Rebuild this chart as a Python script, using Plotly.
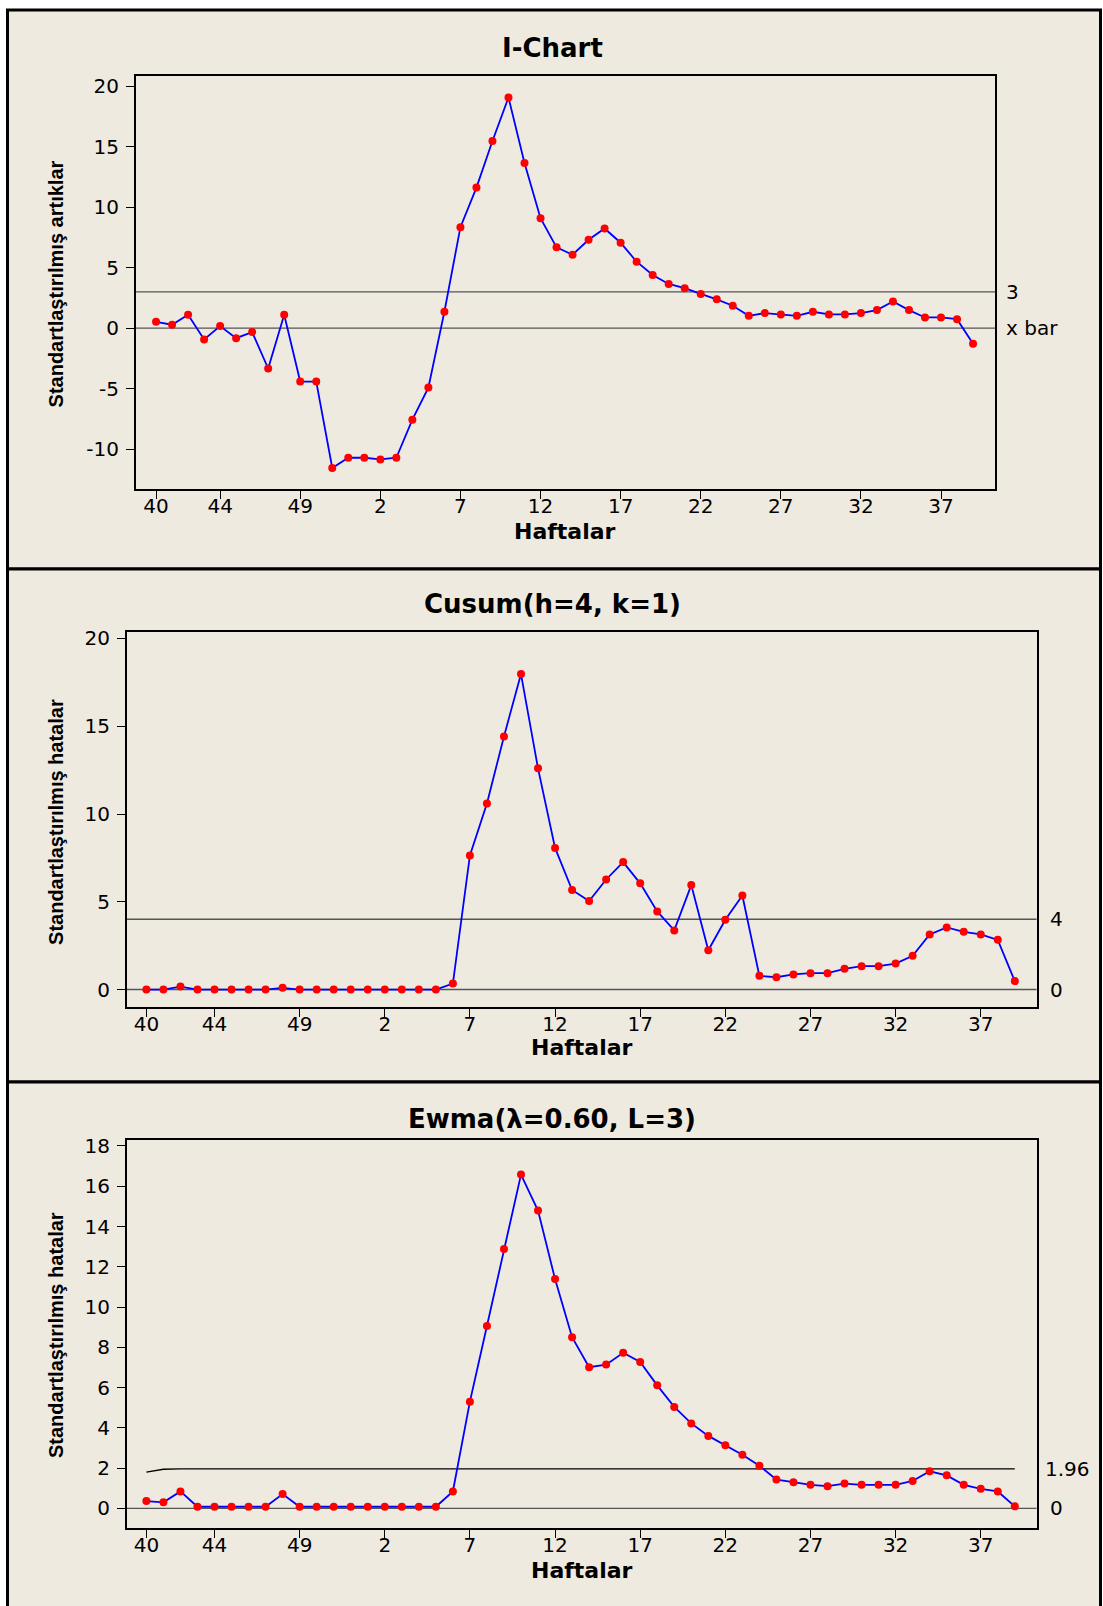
import plotly.graph_objects as go

# Week labels (week 40 of one year through week 39 of the next)
WEEKS = ["40", "41", "42", "43", "44", "45", "46", "47", "48", "49", "50", "51", "52",
         "1", "2", "3", "4", "5", "6", "7", "8", "9", "10", "11", "12", "13", "14",
         "15", "16", "17", "18", "19", "20", "21", "22", "23", "24", "25", "26", "27",
         "28", "29", "30", "31", "32", "33", "34", "35", "36", "37", "38", "39"]
TICK_WEEKS = ["40", "44", "49", "2", "7", "12", "17", "22", "27", "32", "37"]

# I-Chart: standardized residuals
I_VALUES = [0.52, 0.28, 1.10, -0.94, 0.17, -0.83, -0.33, -3.34, 1.10, -4.42,
            -4.42, -11.57, -10.72, -10.72, -10.86, -10.72, -7.57, -4.92, 1.35, 8.35,
            11.62, 15.47, 19.07, 13.65, 9.09, 6.68, 6.07, 7.31, 8.24, 7.06,
            5.49, 4.40, 3.65, 3.30, 2.83, 2.38, 1.85, 1.02, 1.24, 1.13,
            1.02, 1.35, 1.13, 1.13, 1.24, 1.49, 2.20, 1.49, 0.88, 0.88,
            0.74, -1.29]
I_UCL = 3
I_CENTER = 0

# Cusum (h=4, k=1)
CUSUM_VALUES = [0, 0, 0.17, 0, 0, 0, 0, 0, 0.10, 0,
                0, 0, 0, 0, 0, 0, 0, 0, 0.34, 7.64,
                10.60, 14.42, 17.97, 12.60, 8.07, 5.67, 5.04, 6.27, 7.26, 6.05,
                4.45, 3.37, 5.95, 2.24, 3.97, 5.36, 0.78, 0.70, 0.86, 0.93,
                0.93, 1.18, 1.33, 1.33, 1.48, 1.92, 3.14, 3.54, 3.29, 3.14,
                2.83, 0.48]
CUSUM_H = 4
CUSUM_CENTER = 0

# EWMA (lambda=0.60, L=3)
EWMA_VALUES = [0.36, 0.30, 0.84, 0.08, 0.08, 0.08, 0.08, 0.08, 0.71, 0.08,
               0.08, 0.08, 0.08, 0.08, 0.08, 0.08, 0.08, 0.08, 0.84, 5.30,
               9.06, 12.88, 16.58, 14.79, 11.39, 8.50, 7.01, 7.14, 7.73, 7.27,
               6.11, 5.04, 4.22, 3.60, 3.14, 2.66, 2.12, 1.43, 1.30, 1.17,
               1.10, 1.23, 1.17, 1.17, 1.17, 1.36, 1.84, 1.64, 1.17, 0.97,
               0.84, 0.10]
EWMA_UCL = [1.80, 1.94] + [1.96] * 50
EWMA_CENTER = 0

W, H = 1103, 1606
BEIGE = "#EEEAE0"
TICK_FONT = dict(family="DejaVu Sans", size=20, color="black")


def px_x(v):
    return v / W


def px_y(v):
    return 1 - v / H


fig = go.Figure()

panels = [
    dict(vals=I_VALUES, ax="", xd=(135.7, 995.0), yd=(70.0, 485.0),
         xr=[-1.27, 52.37], yr=[-13.32, 20.87], yt=[-10, -5, 0, 5, 10, 15, 20]),
    dict(vals=CUSUM_VALUES, ax="2", xd=(126.8, 1036.6), yd=(628.5, 1005.2),
         xr=[-1.15, 52.28], yr=[-1.02, 20.36], yt=[0, 5, 10, 15, 20]),
    dict(vals=EWMA_VALUES, ax="3", xd=(126.8, 1036.6), yd=(1138.0, 1528.0),
         xr=[-1.15, 52.28], yr=[-0.99, 18.31], yt=[0, 2, 4, 6, 8, 10, 12, 14, 16, 18]),
]

# EWMA upper limit line (drawn first so the series sits on top)
fig.add_trace(go.Scatter(
    x=WEEKS, y=EWMA_UCL, mode="lines", line=dict(color="black", width=1.4),
    xaxis="x3", yaxis="y3", showlegend=False,
))

for p in panels:
    fig.add_trace(go.Scatter(
        x=WEEKS, y=p["vals"], mode="lines+markers",
        line=dict(color="#0000FF", width=1.8),
        marker=dict(color="#FF0000", size=8),
        xaxis="x" + p["ax"], yaxis="y" + p["ax"], showlegend=False,
        cliponaxis=False,
    ))

axis_common = dict(
    showline=True, linecolor="black", linewidth=1.5, mirror=True,
    ticks="outside", ticklen=8, tickwidth=1.3, tickcolor="black",
    showgrid=False, zeroline=False, tickfont=TICK_FONT,
)

layout = {}
for p in panels:
    xk = "xaxis" + p["ax"]
    yk = "yaxis" + p["ax"]
    layout[xk] = dict(
        axis_common, type="category", categoryorder="array", categoryarray=WEEKS,
        domain=[px_x(p["xd"][0]), px_x(p["xd"][1])], range=p["xr"],
        tickmode="array", tickvals=TICK_WEEKS, ticktext=TICK_WEEKS,
        anchor="y" + p["ax"], ticklabelstandoff=-10,
    )
    layout[yk] = dict(
        axis_common,
        domain=[px_y(p["yd"][1]), px_y(p["yd"][0])], range=p["yr"],
        tickmode="array", tickvals=p["yt"], ticktext=[str(t) for t in p["yt"]],
        anchor="x" + p["ax"], ticklabelstandoff=3,
    )

shapes = []
# beige framed panels
for (y0, y1) in [(4, 565), (565, 1080), (1080, 1612)]:
    shapes.append(dict(type="rect", xref="paper", yref="paper", layer="below",
                       x0=px_x(7.5), x1=px_x(1100.5), y0=px_y(y1), y1=px_y(y0),
                       fillcolor=BEIGE, line=dict(color="black", width=3)))

# horizontal control / center lines spanning the plot area
for yref, xref, val in [("y", "x domain", I_UCL),
                        ("y", "x domain", I_CENTER),
                        ("y2", "x2 domain", CUSUM_H),
                        ("y2", "x2 domain", CUSUM_CENTER),
                        ("y3", "x3 domain", EWMA_CENTER)]:
    shapes.append(dict(type="line", xref=xref, yref=yref, x0=0, x1=1, y0=val, y1=val,
                       layer="below", line=dict(color="#555555", width=1.4)))

annotations = []
TITLE_FONT = dict(family="DejaVu Sans", size=26, color="black")
for text, y in [("<b>I-Chart</b>", 42.5), ("<b>Cusum(h=4, k=1)</b>", 600),
                ("<b>Ewma(λ=0.60, L=3)</b>", 1117)]:
    annotations.append(dict(text=text, xref="paper", yref="paper", x=px_x(552), y=px_y(y),
                            showarrow=False, xanchor="center", yanchor="middle",
                            font=TITLE_FONT))

YT_FONT = dict(family="Liberation Sans", size=20, color="black")
for text, y in [("<b>Standartlaştırılmış artıklar</b>", 279.5),
                ("<b>Standartlaştırılmış hatalar</b>", 819),
                ("<b>Standartlaştırılmış hatalar</b>", 1334)]:
    annotations.append(dict(text=text, xref="paper", yref="paper", x=px_x(56), y=px_y(y),
                            showarrow=False, xanchor="center", yanchor="middle",
                            textangle=-90, font=YT_FONT))

XT_FONT = dict(family="DejaVu Sans", size=22, color="black")
for y, p in [(527.0, panels[0]), (1045.5, panels[1]), (1570, panels[2])]:
    cx = (p["xd"][0] + p["xd"][1]) / 2
    annotations.append(dict(text="<b>Haftalar</b>", xref="paper", yref="paper",
                            x=px_x(cx), y=px_y(y), showarrow=False,
                            xanchor="center", yanchor="middle", font=XT_FONT))

# limit labels at the right of each plot
for xref, yref, val, text, shift in [("x domain", "y", I_UCL, "3", 9),
                                     ("x domain", "y", I_CENTER, "x bar", 9),
                                     ("x2 domain", "y2", CUSUM_H, str(CUSUM_H), 11),
                                     ("x2 domain", "y2", CUSUM_CENTER, str(CUSUM_CENTER), 11),
                                     ("x3 domain", "y3", EWMA_UCL[-1], f"{EWMA_UCL[-1]:.2f}", 6),
                                     ("x3 domain", "y3", EWMA_CENTER, str(EWMA_CENTER), 11)]:
    annotations.append(dict(text=text, xref=xref, yref=yref, x=1, y=val, xshift=shift,
                            showarrow=False, xanchor="left", yanchor="middle",
                            font=TICK_FONT))

fig.update_layout(
    width=W, height=H, margin=dict(l=0, r=0, t=0, b=0),
    paper_bgcolor="white", plot_bgcolor="white",
    shapes=shapes, annotations=annotations, **layout,
)

fig.write_html("out.html")
